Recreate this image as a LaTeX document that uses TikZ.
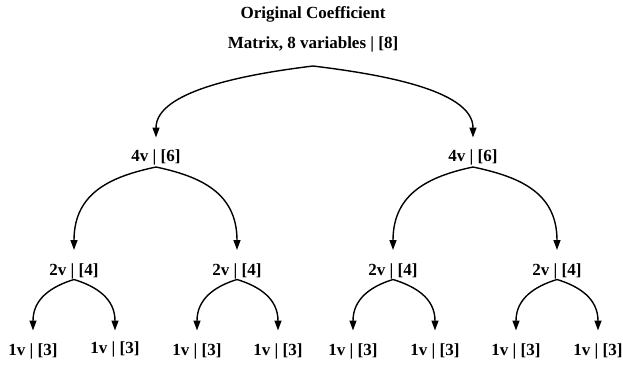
\documentclass[tikz,border=0pt]{standalone}
\usepackage{fontspec}
\setmainfont{Liberation Serif}
\usetikzlibrary{arrows.meta}
\begin{document}
\begin{tikzpicture}[x=1pt,y=1pt,
  lbl/.style={anchor=base,inner sep=0pt,font=\fontsize{17}{20}\selectfont\bfseries},
  conn/.style={line width=1.4pt,-{Triangle[length=10pt,width=7pt]}},
  topL/.style={conn,out=187,in=90,out looseness=0.90,in looseness=0.71},
  topR/.style={conn,out=-7,in=90,out looseness=0.90,in looseness=0.71},
  midL/.style={conn,out=192,in=90,out looseness=0.98,in looseness=1.27},
  midR/.style={conn,out=-12,in=90,out looseness=0.98,in looseness=1.27},
  lowL/.style={conn,out=197,in=90,out looseness=0.93,in looseness=1.24},
  lowR/.style={conn,out=-17,in=90,out looseness=0.93,in looseness=1.24}]
\useasboundingbox (0,0) rectangle (623,-365);
% titles
\node[lbl] (title) at (313,-18.5) {Original Coefficient};
\node[lbl] (root) at (313,-48.3) {Matrix, 8 variables | [8]};
% level 1
\node[lbl] (a) at (156,-161.5) {4v | [6]};
\node[lbl] (b) at (473,-161.5) {4v | [6]};
% level 2
\node[lbl] (aa) at (74,-275.5) {2v | [4]};
\node[lbl] (ab) at (237,-275.5) {2v | [4]};
\node[lbl] (ba) at (393,-275.5) {2v | [4]};
\node[lbl] (bb) at (557,-275.5) {2v | [4]};
% level 3
\node[lbl] (aaa) at (33,-355.5) {1v | [3]};
\node[lbl] (aab) at (115,-353.5) {1v | [3]};
\node[lbl] (aba) at (197,-355.5) {1v | [3]};
\node[lbl] (abb) at (278,-355.5) {1v | [3]};
\node[lbl] (baa) at (353,-355.5) {1v | [3]};
\node[lbl] (bab) at (435,-355.5) {1v | [3]};
\node[lbl] (bba) at (516,-355.5) {1v | [3]};
\node[lbl] (bbb) at (598,-355.5) {1v | [3]};
% connectors
\draw[topL] ([yshift=-17.7pt]root.base) to ([yshift=24pt]a.base);
\draw[topR] ([yshift=-17.7pt]root.base) to ([yshift=24pt]b.base);
\draw[midL] ([yshift=-5.5pt]a.base) to ([yshift=25.5pt]aa.base);
\draw[midR] ([yshift=-5.5pt]a.base) to ([yshift=25.5pt]ab.base);
\draw[midL] ([yshift=-5.5pt]b.base) to ([yshift=25.5pt]ba.base);
\draw[midR] ([yshift=-5.5pt]b.base) to ([yshift=25.5pt]bb.base);
\draw[lowL] ([yshift=-4pt]aa.base) to ([yshift=25pt]aaa.base);
\draw[lowR] ([yshift=-4pt]aa.base) to ([yshift=23pt]aab.base);
\draw[lowL] ([yshift=-4pt]ab.base) to ([yshift=25pt]aba.base);
\draw[lowR] ([yshift=-4pt]ab.base) to ([yshift=25pt]abb.base);
\draw[lowL] ([yshift=-4pt]ba.base) to ([yshift=25pt]baa.base);
\draw[lowR] ([yshift=-4pt]ba.base) to ([yshift=25pt]bab.base);
\draw[lowL] ([yshift=-4pt]bb.base) to ([yshift=25pt]bba.base);
\draw[lowR] ([yshift=-4pt]bb.base) to ([yshift=25pt]bbb.base);
\end{tikzpicture}
\end{document}
